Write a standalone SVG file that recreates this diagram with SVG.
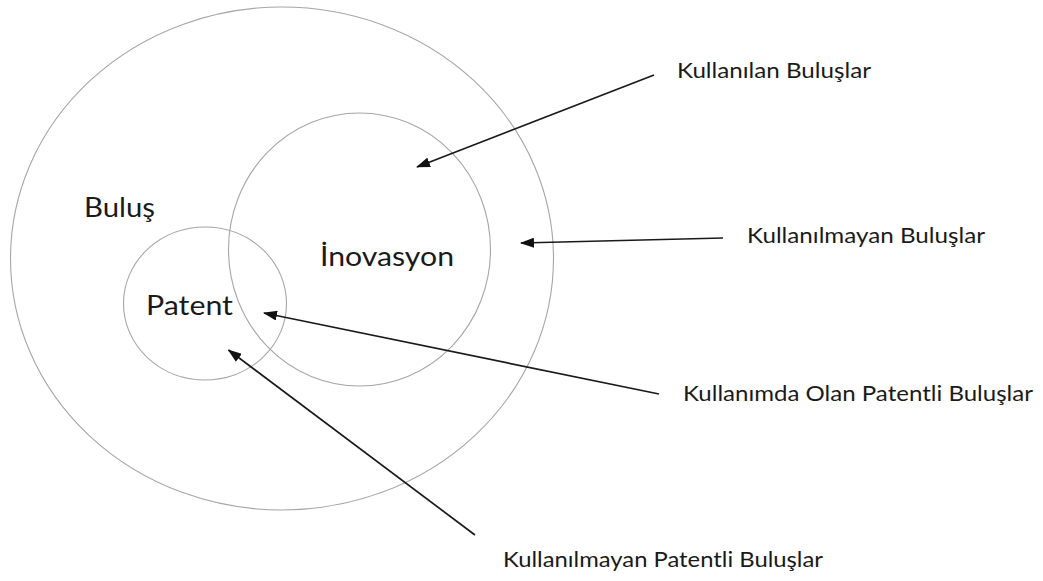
<svg xmlns="http://www.w3.org/2000/svg" width="1043" height="581" viewBox="0 0 1043 581">
  <style>
    .ring { fill: none; stroke: #a6a6a6; stroke-width: 1.1; }
    .big { font-family: Lato, "Open Sans", "Liberation Sans", sans-serif; font-size: 26px; fill: #1a1a1a; }
    .lbl { font-family: Lato, "Open Sans", "Liberation Sans", sans-serif; font-size: 21px; fill: #1a1a1a; }
    .arr { stroke: #1a1a1a; stroke-width: 1.7; fill: none; marker-end: url(#head); }
  </style>
  <defs>
    <marker id="head" viewBox="0 0 14 10" refX="13" refY="5" markerWidth="14" markerHeight="10" markerUnits="userSpaceOnUse" orient="auto">
      <path d="M0,0 L14,5 L0,10 Z" fill="#111"/>
    </marker>
  </defs>
  <rect width="1043" height="581" fill="#ffffff"/>
  <g id="bulus">
    <ellipse class="ring" cx="282" cy="258.5" rx="271.5" ry="251.5"/>
    <text class="big" x="84" y="217" textLength="71" lengthAdjust="spacingAndGlyphs">Buluş</text>
  </g>
  <g id="inovasyon">
    <ellipse class="ring" cx="359.5" cy="249.5" rx="131" ry="136.5"/>
    <text class="big" x="320" y="266" textLength="134" lengthAdjust="spacingAndGlyphs">İnovasyon</text>
  </g>
  <g id="patent">
    <ellipse class="ring" cx="205" cy="303.5" rx="81.5" ry="76.5"/>
    <text class="big" x="146" y="315" textLength="87" lengthAdjust="spacingAndGlyphs">Patent</text>
  </g>
  <g id="label-kullanilan">
    <text class="lbl" x="677" y="78" textLength="194" lengthAdjust="spacingAndGlyphs">Kullanılan Buluşlar</text>
  </g>
  <g id="label-kullanilmayan">
    <text class="lbl" x="747" y="243" textLength="238" lengthAdjust="spacingAndGlyphs">Kullanılmayan Buluşlar</text>
  </g>
  <g id="label-kullanimda-patentli">
    <text class="lbl" x="683" y="401" textLength="350" lengthAdjust="spacingAndGlyphs">Kullanımda Olan Patentli Buluşlar</text>
  </g>
  <g id="label-kullanilmayan-patentli">
    <text class="lbl" x="503" y="567" textLength="320" lengthAdjust="spacingAndGlyphs">Kullanılmayan Patentli Buluşlar</text>
  </g>
  <g id="connectors">
    <line class="arr" x1="654" y1="75" x2="417" y2="167"/>
    <line class="arr" x1="723" y1="238" x2="521" y2="243"/>
    <line class="arr" x1="659" y1="394" x2="264" y2="313"/>
    <line class="arr" x1="475" y1="535" x2="228.5" y2="350"/>
  </g>
</svg>
